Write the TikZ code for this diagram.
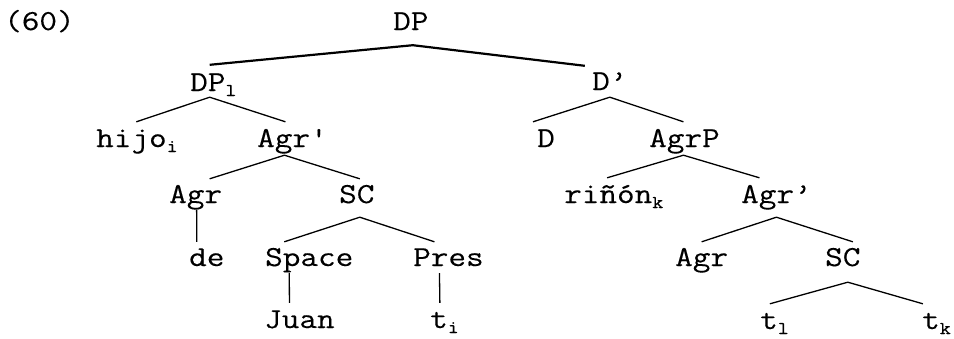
\documentclass[tikz,border=0pt]{standalone}
\usepackage{fontspec}
\setmonofont{Latin Modern Mono}[FakeStretch=1.18,FakeBold=0.25]
\newcommand\sbs[1]{\raisebox{-5pt}{\fontsize{18}{18}\selectfont #1}}
\tikzset{
  lbl/.style={font=\ttfamily\fontsize{29}{29}\selectfont, inner sep=0pt, text height=17pt, text depth=0pt, anchor=base west},
  branch/.style={line width=1.3pt},
  topbranch/.style={line width=2.2pt}
}
\begin{document}
\begin{tikzpicture}[x=1pt,y=-1pt]
\useasboundingbox (0,0) rectangle (954,338);
% nodes
\node[lbl] (n60) at (4,30) {(60)};
\node[lbl] (dp) at (393,30) {DP};
\node[lbl] (dpl) at (190,91) {DP\sbs{l}};
\node[lbl] (dbar) at (592,90) {D’};
\node[lbl] (hijo) at (96,147) {hijo\sbs{i}};
\node[lbl] (agrbarL) at (257,147) {Agr'};
\node[lbl] (dR) at (537,147) {D};
\node[lbl] (agrp) at (649,147) {AgrP};
\node[lbl] (agrL) at (169,203) {Agr};
\node[lbl] (scL) at (339,203) {SC};
\node[lbl] (rinon) at (564,203) {riñón\sbs{k}};
\node[lbl] (agrbarR) at (741,203) {Agr’};
\node[lbl] (de) at (189,266) {de};
\node[lbl] (space) at (265,266) {Space};
\node[lbl] (pres) at (413,266) {Pres};
\node[lbl] (agrR) at (675,266) {Agr};
\node[lbl] (scR) at (825,266) {SC};
\node[lbl] (juan) at (264,328) {Juan};
\node[lbl] (ti) at (430,328) {t\sbs{i}};
\node[lbl] (tl) at (760,329) {t\sbs{l}};
\node[lbl] (tk) at (922,329) {t\sbs{k}};
% connectors
\draw[topbranch] ([shift={(-3.6,-9)}]dpl.north) -- ([shift={(2,15)}]dp.south) -- ([shift={(-25,-7)}]dbar.north);
\draw[branch] ([shift={(-0.6,-8)}]hijo.north) -- ([shift={(-3.6,6)}]dpl.south) -- ([shift={(-7,-8)}]agrbarL.north);
\draw[branch] ([shift={(14,-7)}]agrL.north) -- ([shift={(-8,8)}]agrbarL.south) -- ([shift={(3,-7)}]scL.north);
\draw[branch] ([shift={(1,7)}]agrL.south) -- ([shift={(-10,-7)}]de.north);
\draw[branch] ([shift={(-25,-7)}]space.north) -- ([shift={(3,14)}]scL.south) -- ([shift={(-14,-7)}]pres.north);
\draw[branch] ([shift={(-20,7)}]space.south) -- ([shift={(-10,-8)}]juan.north);
\draw[branch] ([shift={(-9,7)}]pres.south) -- ([shift={(-4.6,-8)}]ti.north);
\draw[branch] ([shift={(-13,-8)}]dR.north) -- ([shift={(0,7)}]dbar.south) -- ([shift={(-1,-8)}]agrp.north);
\draw[branch] ([shift={(-6.6,-8)}]rinon.north) -- ([shift={(-1,8)}]agrp.south) -- ([shift={(-17,-8)}]agrbarR.north);
\draw[branch] ([shift={(0,-7)}]agrR.north) -- ([shift={(0,14)}]agrbarR.south) -- ([shift={(10,-7)}]scR.north);
\draw[branch] ([shift={(-4.6,-8)}]tl.north) -- ([shift={(5,16)}]scR.south) -- ([shift={(-13.6,-8)}]tk.north);
\end{tikzpicture}
\end{document}
